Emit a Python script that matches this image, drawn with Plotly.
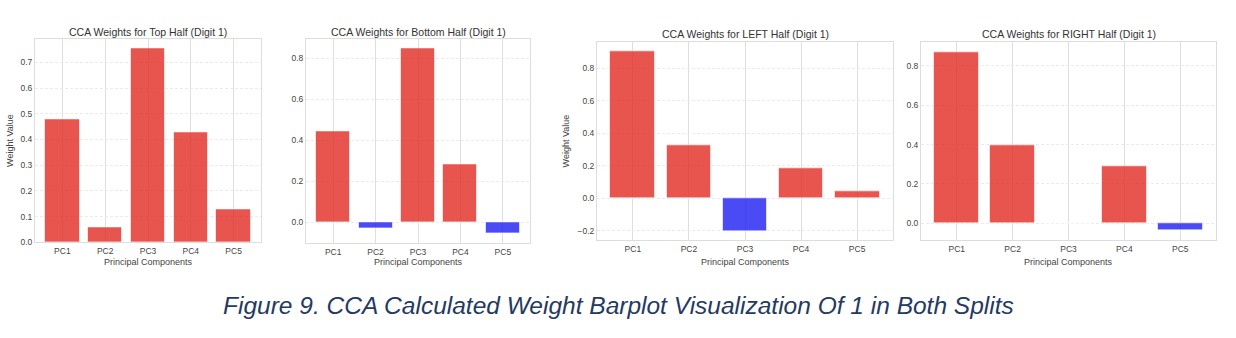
import plotly.graph_objects as go

W, H = 1236, 338

categories = ["PC1", "PC2", "PC3", "PC4", "PC5"]
top_half = [0.477, 0.058, 0.755, 0.428, 0.130]
bottom_half = [0.446, -0.032, 0.848, 0.282, -0.052]
left_half = [0.901, 0.325, -0.201, 0.184, 0.042]
right_half = [0.870, 0.397, 0.002, 0.287, -0.037]

titles = ["CCA Weights for Top Half (Digit 1)",
          "CCA Weights for Bottom Half (Digit 1)",
          "CCA Weights for LEFT Half (Digit 1)",
          "CCA Weights for RIGHT Half (Digit 1)"]
series = [top_half, bottom_half, left_half, right_half]
y_ranges = [[0, 0.789], [-0.103, 0.893], [-0.259, 0.958], [-0.087, 0.92]]
y_dticks = [0.1, 0.2, 0.2, 0.2]
show_ylabel = [True, False, True, False]
# pixel boxes: (left, right, top, bottom)
boxes = [(35, 261, 40, 246), (306, 530, 40, 247), (597, 893, 43, 244), (921, 1216, 43, 244)]
ylabel_x = [10, None, 566, None]
title_y = [32, 32, 35, 35]

RED = "rgba(226,42,35,0.8)"
BLUE = "rgba(30,30,242,0.8)"
FONT = "Liberation Sans, Arial, sans-serif"

fig = go.Figure()
annotations = []
for i, (vals, title) in enumerate(zip(series, titles)):
    n = i + 1
    xa = "x" if n == 1 else f"x{n}"
    ya = "y" if n == 1 else f"y{n}"
    colors = [RED if v >= 0 else BLUE for v in vals]
    fig.add_trace(go.Bar(
        x=categories, y=vals, xaxis=xa, yaxis=ya, width=0.8,
        marker=dict(color=colors, line=dict(color="rgba(255,255,255,0.6)", width=1)),
        showlegend=False,
    ))
    l, r, t, b = boxes[i]
    xkey = "xaxis" if n == 1 else f"xaxis{n}"
    ykey = "yaxis" if n == 1 else f"yaxis{n}"
    fig.layout[xkey] = dict(
        domain=[l / W, r / W], anchor=ya, type="category",
        range=[-0.64, 4.64], showgrid=True, gridcolor="#dedede", gridwidth=1,
        showline=True, linecolor="#dddddd", linewidth=1, mirror=True,
        ticks="", tickfont=dict(size=8.5, color="#444", family=FONT),
        fixedrange=True,
    )
    fig.layout[ykey] = dict(
        domain=[(H - b) / H, (H - t) / H], anchor=xa,
        range=y_ranges[i], dtick=y_dticks[i], tick0=0, tickformat=".1f",
        showgrid=True, gridcolor="#ebebeb", griddash="3px,2px", gridwidth=1,
        zeroline=False, showline=True, linecolor="#dddddd", linewidth=1, mirror=True,
        ticks="", tickfont=dict(size=8.5, color="#444", family=FONT),
        fixedrange=True,
    )
    cx = (l + r) / 2 / W
    annotations.append(dict(text=title, x=cx, y=(H - title_y[i]) / H, xref="paper", yref="paper",
                            showarrow=False, xanchor="center", yanchor="middle",
                            font=dict(size=10.5, color="#333", family=FONT)))
    annotations.append(dict(text="Principal Components", x=cx, y=(H - 266) / H, xref="paper", yref="paper",
                            showarrow=False, xanchor="center", yanchor="middle",
                            font=dict(size=9, color="#444", family=FONT)))
    if show_ylabel[i]:
        annotations.append(dict(text="Weight Value", x=ylabel_x[i] / W, y=(H - (t + b) / 2) / H,
                                xref="paper", yref="paper", textangle=-90,
                                showarrow=False, xanchor="center", yanchor="middle",
                                font=dict(size=9, color="#444", family=FONT)))

annotations.append(dict(text="<i>Figure 9. CCA Calculated Weight Barplot Visualization Of 1 in Both Splits</i>",
                        x=618 / W, y=(H - 310) / H, xref="paper", yref="paper",
                        showarrow=False, xanchor="center", yanchor="middle",
                        font=dict(size=24.5, color="#243a63", family=FONT)))

fig.update_layout(
    width=W, height=H, margin=dict(l=0, r=0, t=0, b=0),
    paper_bgcolor="white", plot_bgcolor="white",
    annotations=annotations, bargap=0,
)
fig.write_html("out.html", config={"displayModeBar": False})
